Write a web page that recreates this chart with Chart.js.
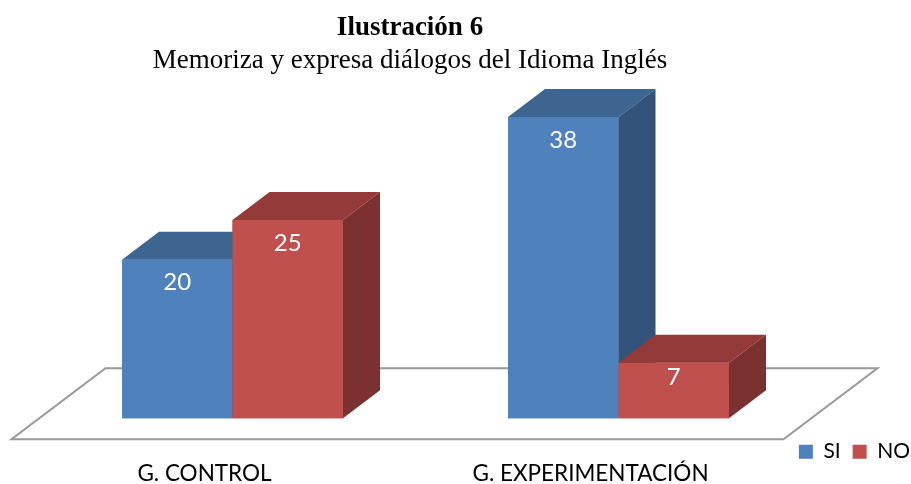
<!DOCTYPE html>
<html>
<head>
<meta charset="utf-8">
<script src="https://cdn.jsdelivr.net/npm/chart.js@4/dist/chart.umd.min.js"></script>
<style>
html,body{margin:0;padding:0;background:#ffffff;}
canvas{display:block;}
</style>
</head>
<body>
<canvas id="c" width="911" height="484"></canvas>
<script>
// ---- data ----
const categories = ['G. CONTROL', 'G. EXPERIMENTACIÓN'];
const seriesNames = ['SI', 'NO'];
const siValues = [20, 38];
const noValues = [25, 7];
const titleText = 'Ilustración 6';
const subtitleText = 'Memoriza y expresa diálogos del Idioma Inglés';

// ---- styles ----
const frontColors = ['#4F81BD', '#C0504D'];
const topColors = ['#3E6490', '#943B3A'];
const sideColors = ['#34537A', '#7B3130'];
const DEPTH_X = 0.335;   // fraction of bar width
const DEPTH_Y = -0.2535;

const floorPlugin = {
  id: 'floor3d',
  beforeDatasetsDraw(chart) {
    const {ctx, chartArea: ca, scales} = chart;
    const base = scales.y.getPixelForValue(0);
    ctx.save();
    ctx.beginPath();
    ctx.moveTo(ca.left - 28, base + 21);
    ctx.lineTo(ca.right - 28, base + 21);
    ctx.lineTo(ca.right + 66, base - 50);
    ctx.lineTo(ca.left + 66, base - 50);
    ctx.closePath();
    ctx.fillStyle = '#ffffff';
    ctx.fill();
    ctx.lineWidth = 2;
    ctx.strokeStyle = '#999999';
    ctx.stroke();
    ctx.restore();
  }
};

const barsPlugin = {
  id: 'bars3d',
  afterDatasetsDraw(chart) {
    const ctx = chart.ctx;
    const n = chart.data.labels.length;
    ctx.save();
    for (let i = 0; i < n; i++) {
      chart.data.datasets.forEach((ds, d) => {
        const meta = chart.getDatasetMeta(d);
        const el = meta.data[i];
        if (!el) return;
        el.draw(ctx);
        const p = el.getProps(['x', 'y', 'base', 'width'], true);
        const x0 = p.x - p.width / 2, x1 = p.x + p.width / 2;
        const dx = p.width * DEPTH_X, dy = p.width * DEPTH_Y;
        // top face
        ctx.beginPath();
        ctx.moveTo(x0, p.y);
        ctx.lineTo(x1, p.y);
        ctx.lineTo(x1 + dx, p.y + dy);
        ctx.lineTo(x0 + dx, p.y + dy);
        ctx.closePath();
        ctx.fillStyle = topColors[d];
        ctx.fill();
        // side face
        ctx.beginPath();
        ctx.moveTo(x1, p.y);
        ctx.lineTo(x1 + dx, p.y + dy);
        ctx.lineTo(x1 + dx, p.base + dy);
        ctx.lineTo(x1, p.base);
        ctx.closePath();
        ctx.fillStyle = sideColors[d];
        ctx.fill();
      });
    }
    // value labels
    ctx.fillStyle = '#ffffff';
    ctx.font = '24px Lato';
    ctx.textAlign = 'center';
    ctx.textBaseline = 'middle';
    chart.data.datasets.forEach((ds, d) => {
      chart.getDatasetMeta(d).data.forEach((el, i) => {
        const p = el.getProps(['x', 'y', 'base'], true);
        const h = p.base - p.y;
        ctx.fillText(String(ds.data[i]), p.x, p.y + Math.min(23, h * 0.27));
      });
    });
    ctx.restore();
  }
};

const hiddenAxis = (pos, w) => ({
  position: pos,
  display: true,
  grid: {display: false, drawTicks: false},
  border: {display: false},
  ticks: {display: false},
  afterFit(scale) { scale.width = w; }
});

const yAxis = Object.assign(hiddenAxis('left', 141.5), {min: -1.39, max: 42});
const y2Axis = Object.assign(hiddenAxis('right', 110.5), {min: 0, max: 1});

new Chart(document.getElementById('c'), {
  type: 'bar',
  data: {
    labels: categories,
    datasets: [
      {label: seriesNames[0], data: siValues, backgroundColor: frontColors[0], borderWidth: 0},
      {label: seriesNames[1], data: noValues, backgroundColor: frontColors[1], borderWidth: 0}
    ]
  },
  options: {
    responsive: false,
    animation: false,
    devicePixelRatio: 1,
    categoryPercentage: 0.5725,
    barPercentage: 1,
    layout: {padding: {left: -102, right: -11, top: 0, bottom: -3.7}},
    scales: {
      x: {
        grid: {display: false, drawTicks: false},
        border: {display: false},
        ticks: {
          color: '#000000',
          font: {family: 'Lato', size: 22.5, lineHeight: 1.2},
          padding: 0.1,
          labelOffset: -28,
          maxRotation: 0
        }
      },
      y: yAxis,
      y2: y2Axis
    },
    plugins: {
      title: {
        display: true,
        text: titleText,
        color: '#000000',
        font: {family: 'Liberation Serif', size: 27, weight: 'bold', lineHeight: 1.2},
        padding: {top: 12, bottom: 0}
      },
      subtitle: {
        display: true,
        text: subtitleText,
        color: '#000000',
        font: {family: 'Liberation Serif', size: 27, weight: 'normal', lineHeight: 1.2},
        padding: {top: 0, bottom: 8.56}
      },
      legend: {
        position: 'bottom',
        align: 'end',
        weight: -1,
        maxHeight: 31.3,
        labels: {
          color: '#000000',
          font: {family: 'Lato', size: 21},
          boxWidth: 14,
          boxHeight: 14,
          padding: 12
        }
      },
      tooltip: {enabled: false}
    }
  },
  plugins: [floorPlugin, barsPlugin]
});
</script>
</body>
</html>
